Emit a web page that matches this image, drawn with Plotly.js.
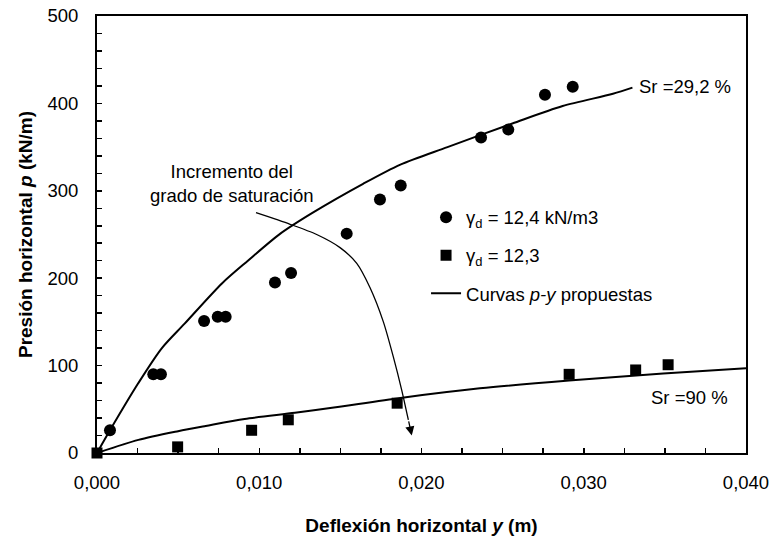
<!DOCTYPE html>
<html>
<head>
<meta charset="utf-8">
<script src="https://cdn.plot.ly/plotly-3.0.1.min.js"></script>
<style>html,body{margin:0;padding:0;background:#fff;}#chart{width:772px;height:537px;}</style>
</head>
<body>
<div id="chart"></div>
<script>
// Measured points, gamma_d = 12.4 kN/m3 (circles)
const circX = [0.0008, 0.00347, 0.00394, 0.0066, 0.00744, 0.00793, 0.01097, 0.01196, 0.01539, 0.01744, 0.01872, 0.02367, 0.02535, 0.02761, 0.02932];
const circY = [26, 90, 90, 151, 156, 156, 195, 206, 251, 290, 306, 361, 370, 410, 419];
// Measured points, gamma_d = 12.3 (squares)
const sqX = [0.0, 0.00497, 0.00953, 0.01179, 0.0185, 0.0291, 0.0332, 0.0352];
const sqY = [0, 7, 26, 38, 57, 90, 95, 101];
// Proposed p-y curve, Sr = 29.2 %
const curve1X = [0, 0.0008, 0.00255, 0.0040, 0.0054, 0.0077, 0.0093, 0.0113, 0.0133, 0.0164, 0.0187, 0.0216, 0.0256, 0.0287, 0.0318, 0.0330];
const curve1Y = [0, 26, 80, 120, 148, 194, 220, 251, 275, 308, 330, 350, 377, 397, 411, 418];
// Proposed p-y curve, Sr = 90 %
const curve2X = [0, 0.00255, 0.005, 0.0067, 0.0091, 0.0122, 0.0146, 0.0187, 0.0236, 0.0291, 0.0349, 0.0400];
const curve2Y = [0, 15, 25, 31, 39, 46, 52, 63, 74, 83, 91, 97];
// Arrow path "Incremento del grado de saturación"
const arrowX = [0.0098, 0.0119, 0.01354, 0.01498, 0.01601, 0.01683, 0.01765, 0.01826, 0.01878, 0.01919];
const arrowY = [274.9, 261.7, 250, 235, 217, 189, 150, 110.2, 72, 37.8];
const arrowTip = [0.0194, 20];

const F = 'Arial, "Liberation Sans", sans-serif';
const FS = 18.5;

const traces = [
  {x: circX, y: circY, type: 'scatter', mode: 'markers', name: 'γ<sub>d</sub> = 12,4 kN/m3',
   marker: {symbol: 'circle', size: 12, color: '#000'}, legendgroup: 'a', cliponaxis: false},
  {x: sqX, y: sqY, type: 'scatter', mode: 'markers', name: 'γ<sub>d</sub> = 12,3',
   marker: {symbol: 'square', size: 11, color: '#000'}, legendgroup: 'b', cliponaxis: false},
  {x: curve1X, y: curve1Y, type: 'scatter', mode: 'lines', name: 'Curvas <i>p-y</i> propuestas',
   line: {color: '#000', width: 2, shape: 'spline', smoothing: 0.8}, legendgroup: 'c'},
  {x: curve2X, y: curve2Y, type: 'scatter', mode: 'lines', showlegend: false,
   line: {color: '#000', width: 2, shape: 'spline', smoothing: 0.8}, legendgroup: 'c'},
  {x: arrowX, y: arrowY, type: 'scatter', mode: 'lines', showlegend: false,
   line: {color: '#000', width: 1.3, shape: 'spline', smoothing: 0.7}, hoverinfo: 'skip'}
];

const layout = {
  width: 772, height: 537,
  margin: {l: 97, r: 26, t: 16, b: 84},
  paper_bgcolor: '#fff', plot_bgcolor: '#fff',
  separators: ',.',
  font: {family: F, size: FS, color: '#000'},
  showlegend: true,
  legend: {x: 0.507, y: 0.582, xanchor: 'left', yanchor: 'top', bgcolor: 'rgba(0,0,0,0)',
           font: {family: F, size: FS, color: '#000'}, tracegroupgap: 11, traceorder: 'grouped'},
  xaxis: {
    range: [0, 0.04], dtick: 0.01, tick0: 0, tickformat: '.3f',
    ticks: 'inside', ticklen: 5, tickwidth: 1.5, tickcolor: '#000',
    minor: {dtick: 0.0025, ticks: 'inside', ticklen: 5, tickwidth: 1.5, tickcolor: '#000'},
    showline: true, linecolor: '#000', linewidth: 2, mirror: true,
    showgrid: false, zeroline: false, ticklabelstandoff: 12,
    tickfont: {family: F, size: FS, color: '#000'},
    title: {text: '<b>Deflexión horizontal <i>y</i> (m)</b>', font: {family: F, size: 19, color: '#000'}, standoff: 26}
  },
  yaxis: {
    range: [0, 500], dtick: 100, tick0: 0,
    ticks: 'inside', ticklen: 5, tickwidth: 1.5, tickcolor: '#000',
    minor: {dtick: 20, ticks: 'inside', ticklen: 5, tickwidth: 1.5, tickcolor: '#000'},
    showline: true, linecolor: '#000', linewidth: 2, mirror: true,
    showgrid: false, zeroline: false, ticklabelstandoff: 13,
    tickfont: {family: F, size: FS, color: '#000'},
    title: {text: '<b>Presión horizontal <i>p</i> (kN/m)</b>', font: {family: F, size: 19, color: '#000'}, standoff: 10}
  },
  annotations: [
    {x: 0.0333, y: 419, xref: 'x', yref: 'y', text: 'Sr =29,2 %', showarrow: false, xanchor: 'left', yanchor: 'middle', font: {family: F, size: FS}},
    {x: 0.0340, y: 64, xref: 'x', yref: 'y', text: 'Sr =90 %', showarrow: false, xanchor: 'left', yanchor: 'middle', font: {family: F, size: FS}},
    {x: 0.00832, y: 308, xref: 'x', yref: 'y', text: 'Incremento del<br>grado de saturación', showarrow: false, xanchor: 'center', yanchor: 'middle', align: 'center', font: {family: F, size: FS}},
    {x: arrowTip[0], y: arrowTip[1], ax: arrowX[arrowX.length - 1], ay: arrowY[arrowY.length - 1], xref: 'x', yref: 'y', axref: 'x', ayref: 'y',
     text: '', showarrow: true, arrowhead: 2, arrowsize: 1.4, arrowwidth: 1.3, arrowcolor: '#000'}
  ]
};

Plotly.newPlot('chart', traces, layout, {displayModeBar: false, staticPlot: true});
</script>
</body>
</html>
